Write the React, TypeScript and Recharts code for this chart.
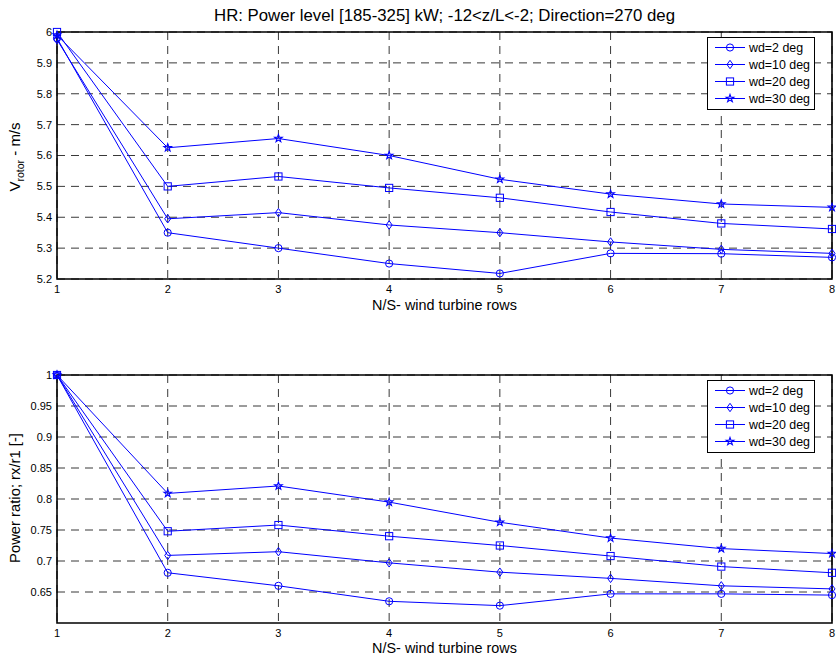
import {
    LineChart,
    Line,
    XAxis,
    YAxis,
    CartesianGrid,
    ReferenceArea,
    Legend,
    Label,
} from 'recharts'

const rows = [1, 2, 3, 4, 5, 6, 7, 8]

// top plot: rotor wind speed (m/s)
const vWd2 = [5.98, 5.35, 5.3, 5.25, 5.218, 5.283, 5.282, 5.27]
const vWd10 = [5.975, 5.395, 5.415, 5.375, 5.35, 5.32, 5.296, 5.283]
const vWd20 = [6.0, 5.5, 5.532, 5.495, 5.463, 5.417, 5.38, 5.362]
const vWd30 = [5.99, 5.625, 5.655, 5.6, 5.523, 5.475, 5.443, 5.432]

// bottom plot: power ratio rx/r1
const pWd2 = [1.0, 0.681, 0.66, 0.635, 0.628, 0.647, 0.647, 0.645]
const pWd10 = [1.0, 0.709, 0.715, 0.697, 0.682, 0.672, 0.66, 0.655]
const pWd20 = [1.0, 0.748, 0.758, 0.74, 0.725, 0.708, 0.691, 0.681]
const pWd30 = [1.0, 0.809, 0.821, 0.795, 0.7625, 0.737, 0.72, 0.712]

const seriesNames = ['wd=2 deg', 'wd=10 deg', 'wd=20 deg', 'wd=30 deg']
const markerKinds = ['circle', 'diamond', 'square', 'star']

const vTicks = [5.2, 5.3, 5.4, 5.5, 5.6, 5.7, 5.8, 5.9, 6]
const pTicks = [0.65, 0.7, 0.75, 0.8, 0.85, 0.9, 0.95, 1]

const BLUE = '#0000ff'
const FONT = '"Liberation Sans", Arial, Helvetica, sans-serif'

const buildData = (series: number[][]) =>
    rows.map((row, i) => {
        const point: Record<string, number> = { row }
        series.forEach((s, k) => {
            point['s' + k] = s[i]
        })
        return point
    })

const vData = buildData([vWd2, vWd10, vWd20, vWd30])
const pData = buildData([pWd2, pWd10, pWd20, pWd30])

function Marker({ kind, cx, cy }: { kind: string; cx?: number; cy?: number }) {
    if (cx == null || cy == null) return null
    if (kind === 'circle') {
        return <circle cx={cx} cy={cy} r={3.6} fill='none' stroke={BLUE} strokeWidth={1} />
    }
    if (kind === 'diamond') {
        const d = `M${cx},${cy - 4.2} L${cx + 3},${cy} L${cx},${cy + 4.2} L${cx - 3},${cy} Z`
        return <path d={d} fill='none' stroke={BLUE} strokeWidth={1} />
    }
    if (kind === 'square') {
        return <rect x={cx - 3.6} y={cy - 3.6} width={7.2} height={7.2} fill='none' stroke={BLUE} strokeWidth={1} />
    }
    const pts: string[] = []
    for (let i = 0; i < 10; i++) {
        const r = i % 2 === 0 ? 4 : 1.6
        const a = -Math.PI / 2 + (i * Math.PI) / 5
        pts.push(`${cx + r * Math.cos(a)},${cy + r * Math.sin(a)}`)
    }
    return <polygon points={pts.join(' ')} fill='none' stroke={BLUE} strokeWidth={1.1} />
}

function LegendBox() {
    return (
        <div
            style={{
                border: '1px solid #000',
                background: '#fff',
                padding: '1px 0 2px 0',
                fontFamily: FONT,
                fontSize: 12.4,
                width: 106,
            }}
        >
            {seriesNames.map((name, k) => (
                <div key={name} style={{ display: 'flex', alignItems: 'center', height: 17 }}>
                    <svg width={41} height={17}>
                        <line x1={7} x2={37} y1={8.5} y2={8.5} stroke={BLUE} />
                        <Marker kind={markerKinds[k]} cx={22} cy={8.5} />
                    </svg>
                    <span>{name}</span>
                </div>
            ))}
        </div>
    )
}

function Panel({
    data,
    domain,
    ticks,
    height,
    margin,
    xAxisHeight,
    yLabel,
}: {
    data: Record<string, number>[]
    domain: [number, number]
    ticks: number[]
    height: number
    margin: { top: number; right: number; bottom: number; left: number }
    xAxisHeight: number
    yLabel: (vb: any) => any
}) {
    return (
        <LineChart width={836} height={height} data={data} margin={margin}>
            <CartesianGrid
                stroke='#222'
                strokeDasharray='8 6'
                strokeWidth={0.9}
                horizontalValues={ticks}
                verticalValues={rows}
            />
            <XAxis
                dataKey='row'
                type='number'
                domain={[1, 8]}
                ticks={rows}
                height={xAxisHeight}
                axisLine={false}
                tickLine={false}
                tickSize={4}
                tickMargin={2}
                tick={{ fill: '#000', fontSize: 11, fontFamily: FONT }}
            >
                <Label
                    value='N/S- wind turbine rows'
                    position='insideBottom'
                    offset={0}
                    style={{ fill: '#000', fontSize: 14.4, fontFamily: FONT }}
                />
            </XAxis>
            <YAxis
                type='number'
                domain={domain}
                ticks={ticks}
                width={50}
                axisLine={false}
                tickLine={false}
                tickSize={3}
                tickMargin={2}
                tickFormatter={(v: number) => String(v)}
                tick={{ fill: '#000', fontSize: 11, fontFamily: FONT }}
                label={{ content: yLabel }}
            />
            <ReferenceArea
                x1={1}
                x2={8}
                y1={domain[0]}
                y2={domain[1]}
                fill='none'
                stroke='#000'
                strokeWidth={1.6}
                strokeOpacity={1}
            />
            {markerKinds.map((kind, k) => (
                <Line
                    key={kind}
                    dataKey={'s' + k}
                    name={seriesNames[k]}
                    stroke={BLUE}
                    strokeWidth={1}
                    isAnimationActive={false}
                    dot={(props: any) => (
                        <Marker key={kind + props.index} kind={kind} cx={props.cx} cy={props.cy} />
                    )}
                    activeDot={false}
                />
            ))}
            <Legend
                layout='vertical'
                align='center'
                verticalAlign='middle'
                wrapperStyle={{ top: margin.top + 5, left: 707, width: 108 }}
                content={() => <LegendBox />}
            />
        </LineChart>
    )
}

const vLabel = () => (
    <text
        x={20}
        y={157}
        transform='rotate(-90, 20, 157)'
        textAnchor='middle'
        fill='#000'
        fontFamily={FONT}
        fontSize={15}
    >
        <tspan>V</tspan>
        <tspan fontSize={10.5} dy={4}>
            rotor
        </tspan>
        <tspan dy={-4}> - m/s</tspan>
    </text>
)

const pLabel = () => (
    <text
        x={20}
        y={168}
        transform='rotate(-90, 20, 168)'
        textAnchor='middle'
        fill='#000'
        fontFamily={FONT}
        fontSize={14.8}
    >
        Power ratio; rx/r1 [-]
    </text>
)

export default function App() {
    return (
        <div style={{ position: 'absolute', left: 0, top: 0, width: 836, height: 659, background: '#fff' }}>
            <div
                style={{
                    position: 'absolute',
                    top: 6,
                    left: 57,
                    width: 775,
                    textAlign: 'center',
                    fontFamily: FONT,
                    fontSize: 16.8,
                    color: '#000',
                    lineHeight: '20px',
                    zIndex: 2,
                }}
            >
                HR: Power level [185-325] kW; -12&lt;z/L&lt;-2; Direction=270 deg
            </div>
            <div style={{ position: 'absolute', left: 0, top: 0 }}>
                <Panel
                    data={vData}
                    domain={[5.2, 6]}
                    ticks={vTicks}
                    height={330}
                    margin={{ top: 32, right: 4, bottom: 20, left: 7 }}
                    xAxisHeight={31}
                    yLabel={vLabel}
                />
            </div>
            <div style={{ position: 'absolute', left: 0, top: 330 }}>
                <Panel
                    data={pData}
                    domain={[0.6, 1]}
                    ticks={pTicks}
                    height={329}
                    margin={{ top: 45, right: 4, bottom: 6, left: 7 }}
                    xAxisHeight={30}
                    yLabel={pLabel}
                />
            </div>
        </div>
    )
}
